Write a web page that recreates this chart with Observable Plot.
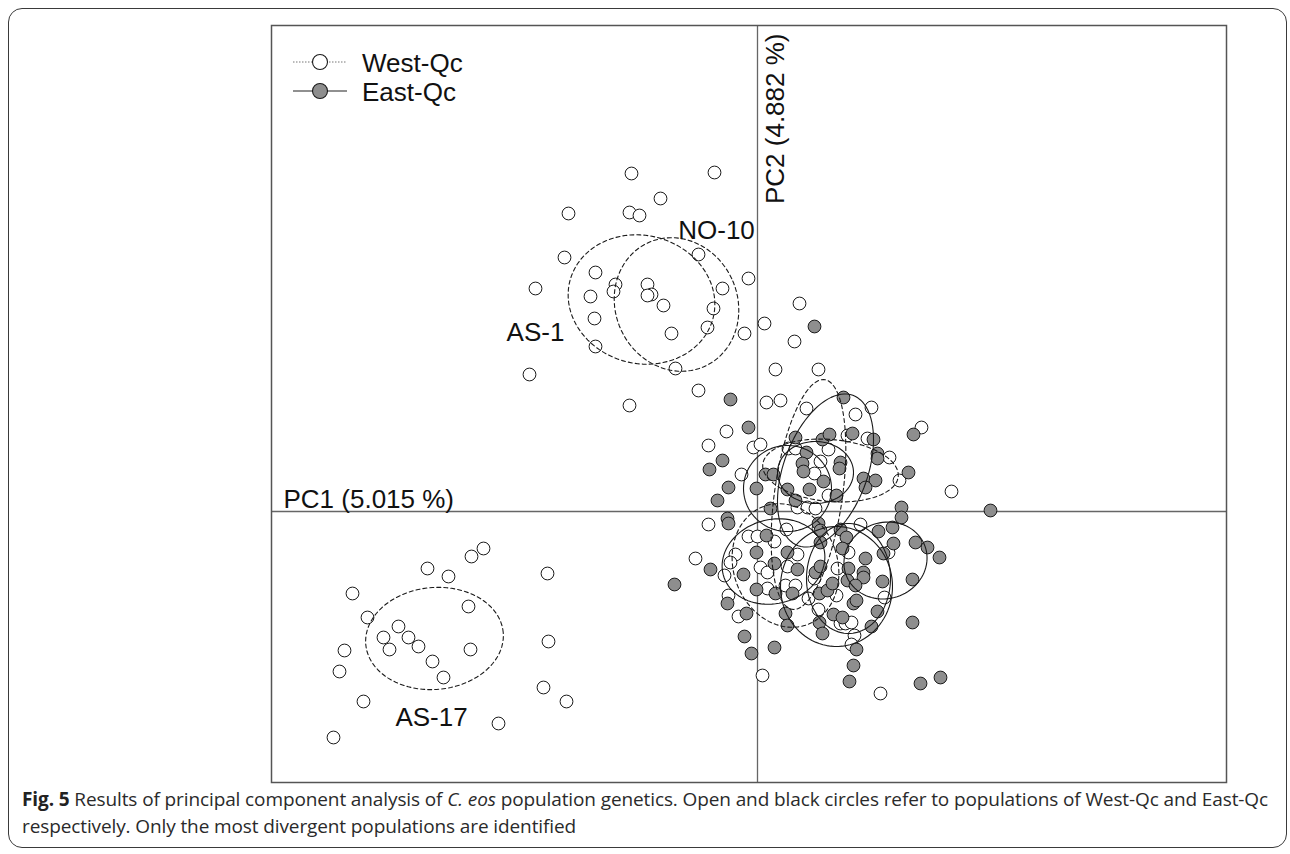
<!DOCTYPE html>
<html>
<head>
<meta charset="utf-8">
<script src="https://cdn.jsdelivr.net/npm/d3@7"></script>
<script src="https://cdn.jsdelivr.net/npm/@observablehq/plot@0.6"></script>
<style>
  html, body { margin: 0; padding: 0; background: #fff; }
  body { width: 1290px; height: 854px; position: relative; overflow: hidden; }
  #box { position: absolute; left: 8px; top: 8px; width: 1277px; height: 838px; border: 1.5px solid #3a3a3a; border-radius: 14px; }
  #chart { position: absolute; left: 0; top: 0; }
  #legend { position: absolute; left: 0; top: 0; }
  .capline { position: absolute; left: 22px; font-family: "Open Sans", sans-serif; font-size: 19px; line-height: 26px; color: #2a2a2a; white-space: pre; }
  #l1 { top: 786px; }
  #l2 { top: 813px; }
  .bold { font-weight: bold; color: #222; }
  .ital { font-style: italic; }
</style>
</head>
<body>
<div id="box"></div>
<div id="chart"></div>
<svg id="legend" width="500" height="120"></svg>
<div id="l1" class="capline"><span class="bold">Fig. 5</span><span> Results of principal component analysis of </span><span class="ital">C. eos</span><span> population genetics. Open and black circles refer to populations of West-Qc and East-Qc</span></div>
<div id="l2" class="capline"><span>respectively. Only the most divergent populations are identified</span></div>
<script>
// ---- data (PC1, PC2 scores) ----
const westPC1 = [-1.26,-0.43,-0.97,-1.89,-1.28,-1.18,-1.93,-0.59,-1.62,-0.09,-2.22,-1.42,-1.44,-1.10,-1.06,-1.10,-0.35,-1.67,-0.94,-0.44,-1.63,-0.50,0.07,-0.86,-0.13,-1.62,-0.82,-2.28,-0.59,-1.28,
  0.42,0.37,0.18,0.61,0.09,0.23,0.49,1.14,0.98,-0.31,-0.49,0.90,1.10,1.64,-0.04,0.03,0.31,0.38,0.71,-0.16,0.63,1.32,1.42,1.94,0.57,0.40,0.50,0.58,0.71,-0.49,
  -0.09,0.00,0.17,0.29,0.61,1.03,1.31,0.91,0.40,-0.22,-0.62,-0.27,-0.33,0.03,0.10,0.30,0.80,0.10,0.28,0.38,0.51,0.57,0.79,1.27,-0.29,-0.19,0.61,0.83,0.88,0.94,0.97,0.94,0.05,1.23,
  -2.74,-2.86,-3.30,-3.09,-2.10,-4.05,-2.89,-3.90,-3.59,-3.74,-3.49,-3.39,-3.68,-4.13,-2.87,-2.09,-3.25,-4.18,-3.14,-2.14,-1.91,-3.94,-2.59,-4.24];
const westPC2 = [3.38,3.39,3.13,2.98,2.99,2.96,2.54,2.57,2.39,2.33,2.23,2.27,2.20,2.27,2.17,2.16,2.23,2.15,2.06,2.03,1.93,1.84,1.88,1.78,1.78,1.65,1.43,1.37,1.21,1.06,
  2.08,1.70,1.42,1.42,1.09,1.11,1.03,1.04,0.97,0.80,0.66,0.76,0.73,0.84,0.64,0.67,0.63,0.63,0.62,0.37,0.50,0.54,0.31,0.20,0.38,0.04,0.04,0.03,0.16,-0.13,
  -0.25,-0.25,-0.30,-0.18,-0.17,-0.13,-0.41,-0.41,-0.43,-0.43,-0.47,-0.51,-0.64,-0.56,-0.61,-0.55,-0.57,-0.77,-0.74,-0.74,-0.87,-0.67,-0.84,-0.86,-0.84,-1.05,-0.98,-1.12,-1.12,-1.11,-1.24,-1.33,-1.64,-1.82,
  -0.37,-0.45,-0.57,-0.65,-0.62,-0.82,-0.95,-1.06,-1.15,-1.26,-1.26,-1.35,-1.38,-1.39,-1.38,-1.30,-1.50,-1.60,-1.66,-1.76,-1.90,-1.90,-2.12,-2.26];
const eastPC1 = [-0.27,0.57,0.86,-0.09,0.38,0.65,0.72,0.95,1.16,1.56,0.49,-0.35,-0.48,0.08,0.16,0.45,0.46,0.83,0.82,1.20,1.20,1.06,1.18,1.08,1.51,-0.29,-0.01,0.30,0.52,0.66,
  -0.40,0.13,0.38,0.79,1.44,2.33,-0.30,-0.29,1.44,0.09,0.61,0.63,0.83,0.89,1.21,1.35,1.36,1.26,1.58,1.70,1.82,1.08,0.85,0.63,0.30,-0.01,-0.47,-0.14,0.17,0.40,
  0.58,0.63,0.91,1.06,1.06,1.25,1.55,-0.83,-0.01,0.18,0.35,0.62,0.70,0.75,0.90,0.98,0.96,0.99,-0.30,-0.11,0.28,0.76,0.85,1.20,0.62,0.30,0.65,1.14,1.55,0.99,
  -0.13,0.17,-0.06,0.96,0.92,1.63,1.83];
const eastPC2 = [1.12,1.85,1.14,0.84,0.74,0.72,0.77,0.78,0.72,0.77,0.59,0.51,0.42,0.37,0.37,0.48,0.40,0.49,0.43,0.58,0.53,0.33,0.31,0.24,0.39,0.24,0.23,0.22,0.22,0.30,
  0.11,0.03,0.11,0.16,0.04,0.01,-0.07,-0.12,-0.06,-0.24,-0.12,-0.19,-0.18,-0.26,-0.20,-0.16,-0.32,-0.42,-0.31,-0.36,-0.46,-0.47,-0.37,-0.31,-0.41,-0.41,-0.58,-0.63,-0.52,-0.58,
  -0.61,-0.55,-0.57,-0.61,-0.66,-0.70,-0.68,-0.73,-0.78,-0.82,-0.82,-0.82,-0.79,-0.72,-0.69,-0.74,-0.92,-0.89,-0.92,-1.02,-1.02,-1.03,-1.06,-1.00,-1.11,-1.14,-1.22,-1.15,-1.11,-1.38,
  -1.25,-1.36,-1.42,-1.54,-1.70,-1.72,-1.66];

// population confidence ellipses: centre, semi-axes, rotation (deg), region
const ellipseGroup = ["West-Qc","West-Qc","West-Qc","West-Qc","West-Qc","West-Qc","East-Qc","East-Qc","East-Qc","East-Qc","East-Qc","East-Qc","East-Qc"];
const ellipseCX  = [-1.16,-0.81,-3.23, 0.51, 0.73, 0.28, 0.68, 0.30, 0.58, 0.16, 0.79, 0.91, 1.28];
const ellipseCY  = [ 2.12, 2.07,-1.27, 0.17, 0.41,-0.54, 0.41, 0.23, 0.39,-0.50,-0.75,-0.67,-0.49];
const ellipseA   = [ 0.74, 0.61, 0.69, 0.34, 0.68, 0.52, 0.80, 0.44, 0.38, 0.52, 0.56, 0.42, 0.42];
const ellipseB   = [ 0.64, 0.68, 0.51, 1.16, 0.31, 0.63, 0.42, 0.43, 0.31, 0.42, 0.60, 0.55, 0.38];
const ellipseRot = [  -15,   25,    5,   -8,   -5,   20,   70,    0,    0,   15,    0,    0,   20];

// population labels
const popLabels = ["AS-1", "NO-10", "AS-17"];
const popLabelX = [-2.22, -0.41, -3.26];
const popLabelY = [ 1.79,  2.81, -2.06];

const axisLabels = ["PC1 (5.015 %)", "PC2 (4.882 %)"];
const xDomain = [-4.86, 4.69];
const yDomain = [-2.71, 4.86];

// ---- build tables ----
const points = [
  ...westPC1.map((x, i) => ({x, y: westPC2[i], group: "West-Qc"})),
  ...eastPC1.map((x, i) => ({x, y: eastPC2[i], group: "East-Qc"}))
];
const ellipsePts = [];
ellipseCX.forEach((cx, k) => {
  const th = ellipseRot[k] * Math.PI / 180;
  for (let j = 0; j <= 90; j++) {
    const t = j / 90 * 2 * Math.PI;
    const ex = ellipseA[k] * Math.cos(t), ey = ellipseB[k] * Math.sin(t);
    ellipsePts.push({id: k, group: ellipseGroup[k],
      x: cx + ex * Math.cos(th) - ey * Math.sin(th),
      y: ellipseCY[k] + ex * Math.sin(th) + ey * Math.cos(th)});
  }
});
const labels = popLabels.map((t, i) => ({t, x: popLabelX[i], y: popLabelY[i]}));

const font = "'Liberation Sans', Arial, sans-serif";
const chart = Plot.plot({
  width: 1290,
  height: 790,
  marginLeft: 271,
  marginRight: 64,
  marginTop: 25,
  marginBottom: 8,
  x: {domain: xDomain, axis: null},
  y: {domain: yDomain, axis: null},
  style: {fontFamily: font, background: "transparent"},
  marks: [
    Plot.ruleX([0], {stroke: "#666", strokeWidth: 1.3}),
    Plot.ruleY([0], {stroke: "#666", strokeWidth: 1.3}),
    Plot.dot(points, {x: "x", y: "y", r: 6.4,
      fill: d => d.group === "West-Qc" ? "#fff" : "#8e8e8e",
      stroke: "#1a1a1a", strokeWidth: 1}),
    Plot.line(ellipsePts.filter(d => d.group === "West-Qc"), {x: "x", y: "y", z: "id",
      stroke: "#1a1a1a", strokeWidth: 1.1, strokeDasharray: "4,3"}),
    Plot.line(ellipsePts.filter(d => d.group === "East-Qc"), {x: "x", y: "y", z: "id",
      stroke: "#1a1a1a", strokeWidth: 1.1}),
    Plot.text(labels, {x: "x", y: "y", text: "t", fontSize: 26, fill: "#111", textAnchor: "middle"}),
    Plot.text([axisLabels[0]], {x: () => xDomain[0], y: () => 0, text: d => d, fontSize: 26, fill: "#111",
      textAnchor: "start", lineAnchor: "bottom", dx: 12, dy: -4}),
    Plot.text([axisLabels[1]], {x: () => 0, y: () => yDomain[1], text: d => d, fontSize: 26, fill: "#111",
      rotate: -90, textAnchor: "end", lineAnchor: "top", dx: 8, dy: 8}),
    Plot.frame({stroke: "#555", strokeWidth: 1.5})
  ]
});
document.getElementById("chart").appendChild(chart);

// ---- legend ----
const lg = d3.select("#legend");
const legendItems = ["West-Qc", "East-Qc"];
legendItems.forEach((name, i) => {
  const cy = 62 + i * 29;
  const open = name === "West-Qc";
  lg.append("line").attr("x1", 293).attr("x2", 347).attr("y1", cy).attr("y2", cy)
    .attr("stroke", open ? "#777" : "#222").attr("stroke-width", open ? 1 : 1.1)
    .attr("stroke-dasharray", open ? "1.5,1.5" : null);
  lg.append("circle").attr("cx", 320).attr("cy", cy).attr("r", 7.5)
    .attr("fill", open ? "#fff" : "#8e8e8e").attr("stroke", "#1a1a1a").attr("stroke-width", 1.1);
  lg.append("text").attr("x", 362).attr("y", cy + 9.5).text(name)
    .attr("font-family", font).attr("font-size", 26).attr("fill", "#111");
});

// ---- caption: tighten letter spacing so line 1 spans the reference's width ----
const l1 = document.getElementById("l1");
const range = document.createRange();
range.selectNodeContents(l1);
const w1 = range.getBoundingClientRect().width;
const n1 = l1.textContent.length;
const ls = `${(1246 - w1) / n1}px`;
document.querySelectorAll(".capline").forEach(el => el.style.letterSpacing = ls);
</script>
</body>
</html>
